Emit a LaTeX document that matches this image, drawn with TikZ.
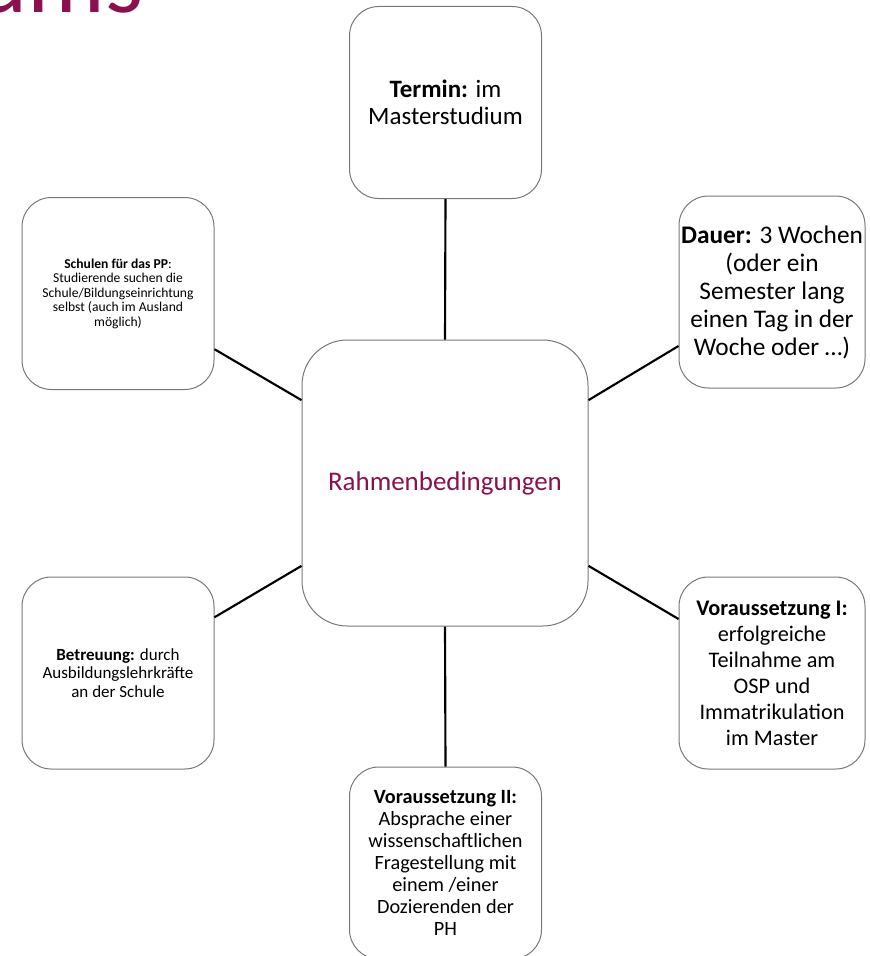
\documentclass[tikz,border=0pt]{standalone}
\usepackage{fontspec}
\setmainfont{Carlito}
\usetikzlibrary{calc}
\definecolor{titlepurple}{RGB}{140,16,78}
\definecolor{boxgray}{RGB}{120,120,120}
\begin{document}
\begin{tikzpicture}[x=0.75pt,y=-0.75pt,
  box/.style={draw=boxgray, line width=0.75pt, rounded corners=22pt, fill=white, align=center, inner sep=0pt},
  outerbox/.style={box, minimum width={192*0.75pt}, minimum height={192*0.75pt}},
  rightbox/.style={box, minimum width={186*0.75pt}, minimum height={192*0.75pt}},
  link/.style={line width=1.6pt, black}]
\useasboundingbox (0,0) rectangle (870,956);
\clip (0,0) rectangle (870,956);
\node[anchor=base west, inner sep=0pt, text=titlepurple, font=\fontsize{73}{80}\selectfont] (title) at (-24,13) {ums};

\node[box, rounded corners=34pt, minimum width={286*0.75pt}, minimum height={286*0.75pt}, text=titlepurple, font=\fontsize{20.2}{24}\selectfont] (C) at (445,483) {Rahmenbedingungen};

\node[outerbox, font=\fontsize{18.75}{20.25}\selectfont] (T) at (445.5,102.5) {\textbf{Termin:} im\\Masterstudium};

\node[outerbox, font=\fontsize{10.2}{10.9}\selectfont] (S) at (118,293.5) {\textbf{Schulen für das PP}:\\Studierende suchen die\\Schule/Bildungseinrichtung\\selbst (auch im Ausland\\möglich)};

\node[rightbox, font=\fontsize{19}{21}\selectfont] (D) at (772,292) {\textbf{Dauer:} 3 Wochen\\(oder ein\\Semester lang\\einen Tag in der\\Woche oder …)};

\node[outerbox, font=\fontsize{12.75}{13.8}\selectfont] (B) at (118,673) {\textbf{Betreuung:} durch\\Ausbildungslehrkräfte\\an der Schule};

\node[rightbox, font=\fontsize{16.7}{19.5}\selectfont] (V1) at (772,673) {\textbf{Voraussetzung I:}\\erfolgreiche\\Teilnahme am\\OSP und\\Immatrikulation\\im Master};

\node[outerbox, font=\fontsize{15.2}{16.5}\selectfont] (V2) at (445.5,863) {\textbf{Voraussetzung II:}\\Absprache einer\\wissenschaftlichen\\Fragestellung mit\\einem /einer\\Dozierenden der\\PH};

\draw[link] (T.south) -- (C.north);
\draw[link] (C.south) -- (V2.north);
\draw[link] (S.-30) -- (C.150);
\draw[link] (D.210) -- (C.30);
\draw[link] (B.30) -- (C.210);
\draw[link] (V1.150) -- (C.-30);
\end{tikzpicture}
\end{document}
